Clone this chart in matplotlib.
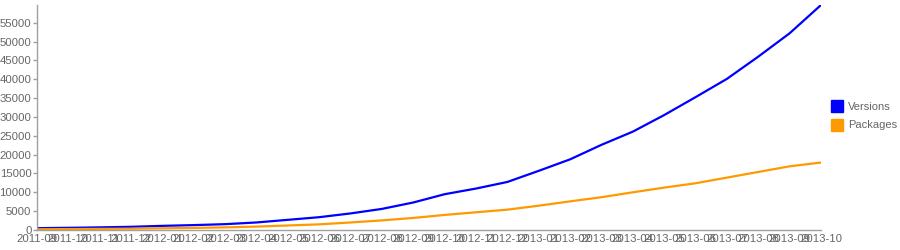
import matplotlib
matplotlib.use("Agg")
import matplotlib.pyplot as plt
from matplotlib.lines import Line2D

months = [
    "2011-09", "2011-10", "2011-11", "2011-12",
    "2012-01", "2012-02", "2012-03", "2012-04", "2012-05", "2012-06",
    "2012-07", "2012-08", "2012-09", "2012-10", "2012-11", "2012-12",
    "2013-01", "2013-02", "2013-03", "2013-04", "2013-05", "2013-06",
    "2013-07", "2013-08", "2013-09", "2013-10",
]
versions = [
    480, 580, 700, 850, 1100, 1300, 1550, 2000, 2700, 3400,
    4400, 5600, 7300, 9500, 11000, 12750, 15700, 18750, 22600, 26100,
    30500, 35250, 40100, 46000, 52200, 59700,
]
packages = [
    200, 250, 300, 350, 450, 550, 700, 900, 1200, 1500,
    2000, 2550, 3200, 4000, 4700, 5400, 6450, 7600, 8700, 10000,
    11250, 12400, 13900, 15400, 16900, 17900,
]
yticks = list(range(0, 55001, 5000))

blue = "#0000ff"
orange = "#ff9900"
text_col = "#666666"
axis_col = "#a0a0a0"

plt.rcParams["font.family"] = ["Liberation Sans", "DejaVu Sans"]

fig = plt.figure(figsize=(9, 2.5), dpi=100)
ax = fig.add_axes([37 / 900, 20 / 250, (821 - 37) / 900, 225 / 250])

x = list(range(len(months)))
ax.plot(x, versions, color=blue, lw=1.6, solid_joinstyle="round")
ax.plot(x, packages, color=orange, lw=1.6, solid_joinstyle="round")

ax.set_xlim(0, len(months) - 1)
ax.set_ylim(0, max(versions))
ax.set_xticks(x)
ax.set_xticklabels(months)
ax.set_yticks(yticks)

for side in ("top", "right"):
    ax.spines[side].set_visible(False)
for side in ("left", "bottom"):
    ax.spines[side].set_color(axis_col)
    ax.spines[side].set_linewidth(1)

ax.tick_params(axis="y", length=3, width=1, color=axis_col, labelsize=8.2,
               labelcolor=text_col, pad=1)
ax.tick_params(axis="x", length=0, labelsize=8.2, labelcolor=text_col, pad=3)

handles = [
    Line2D([], [], ls="none", marker="s", markersize=8.5, color=blue),
    Line2D([], [], ls="none", marker="s", markersize=8.5, color=orange),
]
fig.legend(handles, ["Versions", "Packages"], loc="center left",
           bbox_to_anchor=(827 / 900, 1 - 116 / 250), frameon=False,
           fontsize=8, labelcolor=text_col, handlelength=0.8,
           handletextpad=0.6, labelspacing=0.8, borderpad=0)

fig.savefig("out.png", dpi=100)
